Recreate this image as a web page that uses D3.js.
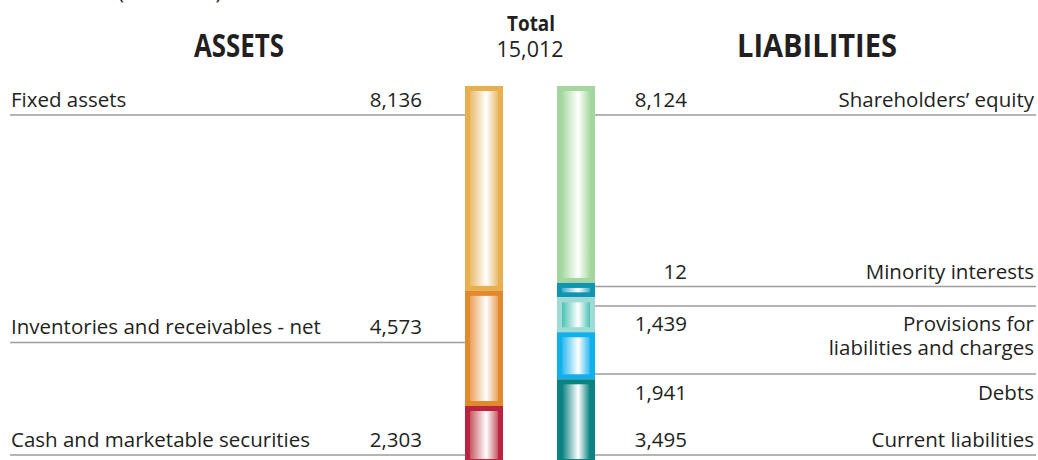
<!DOCTYPE html>
<html>
<head>
<meta charset="utf-8">
<script src="https://cdn.jsdelivr.net/npm/d3@7"></script>
<style>
  html, body { margin: 0; padding: 0; background: #fff; }
  svg { display: block; }
  text { font-family: 'Open Sans', 'Noto Sans', sans-serif; fill: #231f20; }
</style>
</head>
<body>
<svg id="chart" width="1038" height="460"></svg>
<script>
// ---------------- data ----------------
const unitNote = "(€ millions)";
const totalLabel = "Total";
const totalValue = 15012;
const sideTitles = ["ASSETS", "LIABILITIES"];

const assetLabels = ["Fixed assets", "Inventories and receivables - net", "Cash and marketable securities"];
const assetValues = [8136, 4573, 2303];

const liabilityLabels = ["Shareholders’ equity", "Minority interests", "Provisions for\nliabilities and charges", "Debts", "Current liabilities"];
const liabilityValues = [8124, 12, 1439, 1941, 3495];

// ---------------- styles / layout ----------------
const assetColors = [
  { border: "#e7af4d", inner: "#e9bb6e" },
  { border: "#e1892d", inner: "#e9a35c" },
  { border: "#bb2340", inner: "#c65962" }
];
const liabilityColors = [
  { border: "#a4d79f", inner: "#a8d9a1" },
  { border: "#0f94b1", inner: "#47abc8" },
  { border: "#a0dad5", inner: "#4cc0b5" },
  { border: "#0fb0ec", inner: "#2cb8ee" },
  { border: "#0b8181", inner: "#0b8181" }
];

// label rows: baselines (text), underline positions
const assetRows = [
  { base: [106.5], lines: [115] },
  { base: [334], lines: [342.5] },
  { base: [446.5], lines: [455] }
];
const liabilityRows = [
  { base: [106.5], lines: [115] },
  { base: [279], lines: [286.5] },
  { base: [331, 355], lines: [306, 374] },
  { base: [400], lines: [] },
  { base: [446.5], lines: [455] }
];

const svg = d3.select("#chart");
const W = 1038;
const barTop = 86, barBottom = 464, barW = 38, inset = 5, minSeg = 14.4;
const fmt = d3.format(",");

const x = d3.scalePoint().domain(["assets", "liabilities"]).range([484, 576]);

function stackLayout(values) {
  const total = d3.sum(values);
  const full = barBottom - barTop;
  const small = values.map(v => v / total * full < minSeg);
  const nSmall = small.filter(Boolean).length;
  const bigTotal = d3.sum(values.filter((v, i) => !small[i]));
  const h = d3.scaleLinear().domain([0, bigTotal]).range([0, full - nSmall * minSeg]);
  let y = barTop;
  return values.map((v, i) => {
    const hh = small[i] ? minSeg : h(v);
    const seg = { y0: y, y1: y + hh, value: v };
    y += hh;
    return seg;
  });
}

const defs = svg.append("defs");
function gradient(id, color) {
  const g = defs.append("linearGradient").attr("id", id)
    .attr("x1", "0%").attr("x2", "100%").attr("y1", "0%").attr("y2", "0%");
  g.append("stop").attr("offset", "0%").attr("stop-color", color);
  g.append("stop").attr("offset", "58%").attr("stop-color", "#ffffff");
  g.append("stop").attr("offset", "100%").attr("stop-color", color);
}

function drawBar(key, values, colors) {
  const segs = stackLayout(values);
  const cx = x(key);
  const g = svg.append("g");
  segs.forEach((s, i) => {
    const id = `grad-${key}-${i}`;
    gradient(id, colors[i].inner);
    g.append("rect")
      .attr("x", cx - barW / 2).attr("y", s.y0)
      .attr("width", barW).attr("height", s.y1 - s.y0)
      .attr("fill", colors[i].border);
    g.append("rect")
      .attr("x", cx - barW / 2 + inset).attr("y", s.y0 + inset)
      .attr("width", barW - 2 * inset).attr("height", Math.max(0, s.y1 - s.y0 - 2 * inset))
      .attr("fill", `url(#${id})`);
  });
}

// ---------- lines ----------
const lineG = svg.append("g").attr("stroke", "#9d9d9d").attr("stroke-width", 1.6);
assetRows.forEach(r => r.lines.forEach(ly => {
  lineG.append("line").attr("x1", 10).attr("x2", x("assets") - barW / 2).attr("y1", ly).attr("y2", ly);
}));
liabilityRows.forEach(r => r.lines.forEach(ly => {
  lineG.append("line").attr("x1", x("liabilities") + barW / 2).attr("x2", 1036).attr("y1", ly).attr("y2", ly);
}));

drawBar("assets", assetValues, assetColors);
drawBar("liabilities", liabilityValues, liabilityColors);

// ---------- text ----------
const fs = 20.5;
svg.append("text").attr("x", 118).attr("y", -1.5).attr("font-size", fs).text(unitNote);

svg.append("text").attr("x", 239).attr("y", 57).attr("text-anchor", "middle")
  .attr("font-size", 32).attr("font-weight", 700)
  .attr("textLength", 90).attr("lengthAdjust", "spacingAndGlyphs")
  .text(sideTitles[0]);
svg.append("text").attr("x", 817).attr("y", 57).attr("text-anchor", "middle")
  .attr("font-size", 32).attr("font-weight", 700)
  .attr("textLength", 160).attr("lengthAdjust", "spacingAndGlyphs")
  .text(sideTitles[1]);

svg.append("text").attr("x", 531).attr("y", 30.5).attr("text-anchor", "middle")
  .attr("font-size", 21).attr("font-weight", 700)
  .attr("textLength", 48).attr("lengthAdjust", "spacingAndGlyphs")
  .text(totalLabel);
svg.append("text").attr("x", 530).attr("y", 56.5).attr("text-anchor", "middle")
  .attr("font-size", 21.5).text(fmt(totalValue));

assetLabels.forEach((lab, i) => {
  const r = assetRows[i];
  svg.append("text").attr("x", 11).attr("y", r.base[0]).attr("font-size", fs).text(lab);
  svg.append("text").attr("x", 422).attr("y", r.base[0]).attr("text-anchor", "end")
    .attr("font-size", fs).text(fmt(assetValues[i]));
});

liabilityLabels.forEach((lab, i) => {
  const r = liabilityRows[i];
  lab.split("\n").forEach((line, j) => {
    svg.append("text").attr("x", 1034).attr("y", r.base[j]).attr("text-anchor", "end")
      .attr("font-size", fs).text(line);
  });
  svg.append("text").attr("x", 687).attr("y", r.base[0]).attr("text-anchor", "end")
    .attr("font-size", fs).text(fmt(liabilityValues[i]));
});
</script>
</body>
</html>
